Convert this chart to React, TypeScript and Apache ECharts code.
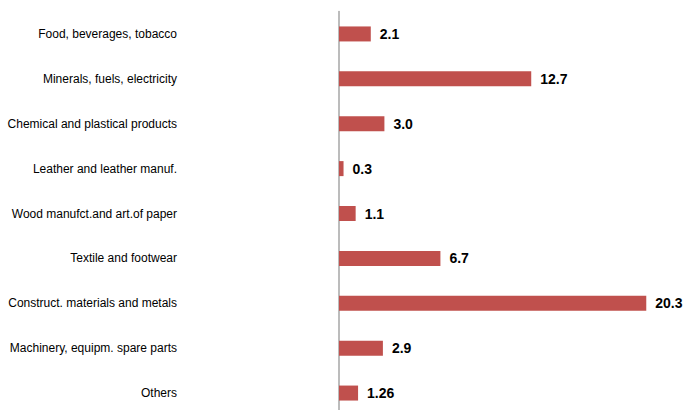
import React, { useEffect, useRef } from "react";
import * as echarts from "echarts";

const categories = [
  "Food, beverages, tobacco",
  "Minerals, fuels, electricity",
  "Chemical and plastical products",
  "Leather and leather manuf.",
  "Wood manufct.and art.of paper",
  "Textile and footwear",
  "Construct. materials and metals",
  "Machinery, equipm. spare parts",
  "Others",
];
const values = [2.1, 12.7, 3.0, 0.3, 1.1, 6.7, 20.3, 2.9, 1.26];
const valueLabels = ["2.1", "12.7", "3.0", "0.3", "1.1", "6.7", "20.3", "2.9", "1.26"];

const FONT = "'Liberation Sans', Arial, sans-serif";

export default function App() {
  const ref = useRef<HTMLDivElement>(null);
  useEffect(() => {
    if (!ref.current) return;
    const chart = echarts.init(ref.current, null, { renderer: "svg" });
    chart.setOption({
      animation: false,
      backgroundColor: "#ffffff",
      grid: {
        left: 339,
        top: 11.5,
        height: 404,
        right: 13,
        containLabel: false,
        outerBoundsMode: "none",
      },
      xAxis: {
        type: "value",
        min: 0,
        max: 22,
        show: false,
        splitLine: { show: false },
      },
      yAxis: {
        type: "category",
        data: categories,
        inverse: true,
        axisTick: { show: false },
        axisLine: { show: true, lineStyle: { color: "#A6A6A6", width: 1.5 } },
        axisLabel: {
          margin: 162,
          color: "#000000",
          fontFamily: FONT,
          fontSize: 12,
        },
      },
      series: [
        {
          type: "bar",
          data: values,
          barWidth: 15,
          itemStyle: { color: "#C0504D" },
          label: {
            show: true,
            position: "right",
            distance: 9,
            color: "#000000",
            fontFamily: FONT,
            fontWeight: "bold",
            fontSize: 14,
            formatter: (p: any) => valueLabels[p.dataIndex],
          },
        },
      ],
    });
    return () => chart.dispose();
  }, []);
  return (
    <div
      ref={ref}
      style={{ position: "fixed", left: 0, top: 0, width: 685, height: 410 }}
    />
  );
}
